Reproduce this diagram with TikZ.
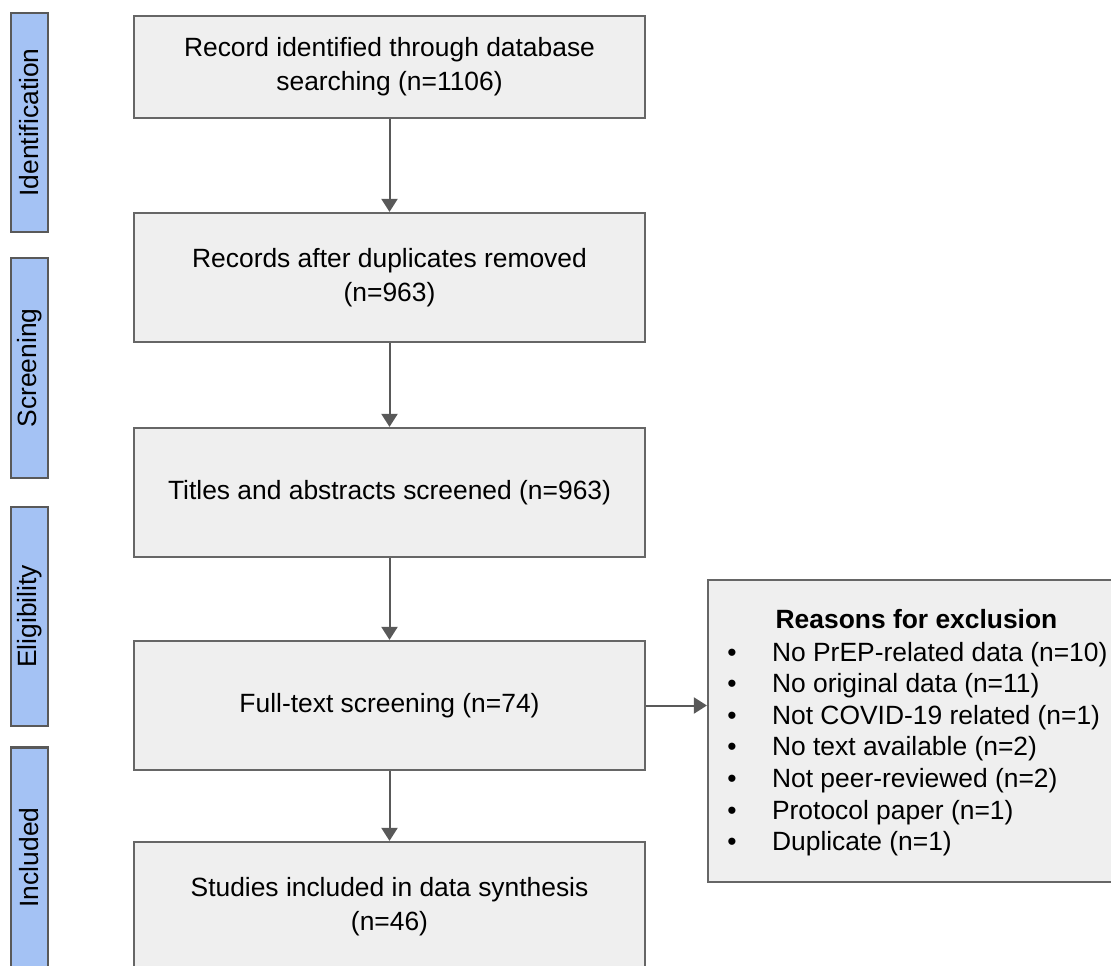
\documentclass[tikz,border=0pt]{standalone}
\usepackage{fontspec}
\setmainfont{Liberation Sans}
\usetikzlibrary{arrows.meta}

\definecolor{boxfill}{HTML}{EFEFEF}
\definecolor{boxline}{HTML}{666666}
\definecolor{barfill}{HTML}{A4C2F4}
\definecolor{arrowgray}{HTML}{595959}

\tikzset{
  stagebox/.style={draw=boxline, line width=1.1pt, fill=boxfill, minimum width=255.5pt,
    minimum height=64.5pt, align=center, inner sep=0pt},
  phasebar/.style={draw=arrowgray, line width=1.1pt, fill=barfill, rotate=90,
    minimum width=109.5pt, minimum height=18.5pt, inner sep=0pt},
  flow/.style={-{Triangle[width=8pt,length=6.5pt]}, arrowgray, line width=1pt},
}

\begin{document}
\begin{tikzpicture}[x=0.5pt, y=0.5pt, font=\fontsize{13.2}{17}\selectfont]
  \clip (0,0) rectangle (1111,965);
  \fill[white] (0,0) rectangle (1111,965);

  % Phase bars
  \node[phasebar] (ident) at (29.5, 842.5) {Identification};
  \node[phasebar, minimum width=110pt] (screen) at (29.5, 597) {Screening};
  \node[phasebar] (elig) at (29.5, 348.5) {Eligibility};
  \node[phasebar, minimum width=110pt] (incl) at (29.5, 107.5) {Included};

  % Flow boxes
  \node[stagebox, minimum height=51pt] (records) at (389.5, 898) {Record identified through database\\searching (n=1106)};
  \node[stagebox] (dedup) at (389.5, 687.5) {Records after duplicates removed\\(n=963)};
  \node[stagebox] (titles) at (389.5, 472.5) {Titles and abstracts screened (n=963)};
  \node[stagebox] (fulltext) at (389.5, 259.5) {Full-text screening (n=74)};
  \node[stagebox, minimum height=65pt] (studies) at (389.5, 58) {Studies included in data synthesis\\(n=46)};

  % Exclusion box
  \node[stagebox, minimum width=208.5pt, minimum height=151pt] (excl) at (916.5, 234) {};
  \node[anchor=base] (excltitle) at (916.5, 337) {\bfseries Reasons for exclusion};
  \foreach \reason [count=\i] in {{No PrEP-related data (n=10)}, {No original data (n=11)},
      {Not COVID-19 related (n=1)}, {No text available (n=2)}, {Not peer-reviewed (n=2)},
      {Protocol paper (n=1)}, {Duplicate (n=1)}} {
    \node[anchor=base] (bullet\i) at (732, {304-31.6*(\i-1)}) {\textbullet};
    \node[anchor=base west] (reason\i) at (765, {304-31.6*(\i-1)}) {\reason};
  }

  % Arrows
  \draw[flow] (records) -- (dedup);
  \draw[flow] (dedup) -- (titles);
  \draw[flow] (titles) -- (fulltext);
  \draw[flow] (fulltext) -- (studies);
  \draw[flow] (fulltext) -- (fulltext -| excl.west);
\end{tikzpicture}
\end{document}
